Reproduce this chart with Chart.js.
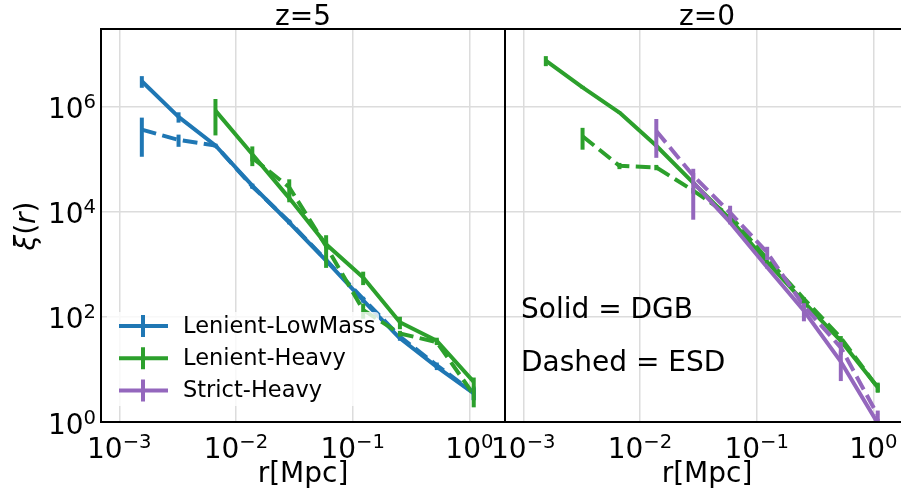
<!DOCTYPE html>
<html>
<head>
<meta charset="utf-8">
<script src="https://cdn.jsdelivr.net/npm/chart.js@4.4.0/dist/chart.umd.min.js"></script>
<style>
  html, body { margin: 0; padding: 0; background: #fff; overflow: hidden; }
  #wrap { position: relative; width: 901px; height: 494px; overflow: hidden; }
  canvas { position: absolute; top: 0; }
  #left { left: 0; }
  #right { left: 480px; }
</style>
</head>
<body>
<div id="wrap">
  <canvas id="left" width="560" height="494"></canvas>
  <canvas id="right" width="460" height="494"></canvas>
</div>
<script>
// bin centres, r [Mpc]
const r = [0.00156, 0.00322, 0.00667, 0.0138, 0.0286, 0.0592, 0.123, 0.254, 0.526, 1.09];

// z=5 panel
const lowMassDGB5 = [3.0e6, 6.3e5, 1.8e5, 3.1e4, 6.2e3, 1.17e3, 205, 39, 11.2, 3.5];
const lowMassDGB5Err = [7.5e5, 1.4e5, 1.5e4, 3e3, 5e2, 1e2, 20, 4, 1.5, 0.9];
const lowMassESD5 = [3.6e5, 2.3e5, 1.8e5, 3.0e4, 6.4e3, 1.2e3, 220, 42, 12, 3.6];
const lowMassESD5Err = [2.5e5, 6e4, 1e4, 3e3, 6e2, 1e2, 20, 4, 1.5, 1];
const heavyDGB5 = [null, null, 8.3e5, 1.23e5, 1.8e4, 2.4e3, 560, 79, 35, 5.8];
const heavyDGB5Err = [null, null, 5.5e5, 5e4, 3e3, 4e2, 160, 21, 5, 1.2];
const heavyESD5 = [null, null, null, 1.05e5, 2.9e4, 2.2e3, 135, 48, 33, 3.3];
const heavyESD5Err = [null, null, null, 1.5e4, 1.2e4, 1.35e3, 43, 6, 4, 1.4];

// z=0 panel
const heavyDGB0 = [7.4e6, 2.3e6, 7.6e5, 1.78e5, 3.5e4, 7.2e3, 1.1e3, 190, 35, 4.6];
const heavyDGB0Err = [1.6e6, 1.5e5, 3e4, 8e3, 2e3, 4e2, 60, 12, 3, 1];
const heavyESD0 = [null, 2.7e5, 7.4e4, 6.9e4, 2.5e4, 8.3e3, 1.25e3, 220, 40, 4.5];
const heavyESD0Err = [null, 1.2e5, 1e4, 8e3, 3e3, 5e2, 80, 15, 3, 0.8];
const strictDGB0 = [null, null, null, null, 3.6e4, 6.2e3, 870, 130, 14, 0.95];
const strictDGB0Err = [null, null, null, null, 2.9e4, 5e2, 50, 48, 8, 0.2];
const strictESD0 = [null, null, null, 3.4e5, 4.8e4, 9.5e3, 1.67e3, 160, 26, 1.35];
const strictESD0Err = [null, null, null, 2.35e5, 6e3, 3.4e3, 470, 20, 7, 0.3];

const xTicks = [1e-3, 1e-2, 1e-1, 1];
const yTicks = [1, 1e2, 1e4, 1e6];
const xMin = 6.97e-4, xMax = 2.02;
const yMin = 1, yMax = 2.95e7;

const BLUE = "#1f77b4", GREEN = "#2ca02c", PURPLE = "#9467bd";
const FONT = "DejaVu Sans";
const DASH = [14.8, 6.4];

function series(label, ys, errs, color, dashed) {
  const pts = [];
  ys.forEach((y, i) => {
    if (y !== null) pts.push({ x: r[i], y: y, e: errs[i] });
  });
  return {
    label: label,
    data: pts,
    borderColor: color,
    backgroundColor: color,
    borderWidth: 4,
    borderDash: dashed ? DASH : [],
    borderJoinStyle: "round",
    pointRadius: 0,
    showLine: true,
    fill: false,
    tension: 0,
  };
}

// "10" with a raised exponent, like matplotlib mathtext
function drawPow(ctx, value, x, baseline, align) {
  const e = String(Math.round(Math.log10(value))).replace("-", "\u2212");
  ctx.textAlign = "left";
  ctx.textBaseline = "alphabetic";
  ctx.font = "28px " + FONT;
  const w1 = ctx.measureText("10").width;
  ctx.font = "19.6px " + FONT;
  const w2 = ctx.measureText(e).width;
  const total = w1 + w2;
  let x0 = align === "right" ? x - total : x - total / 2;
  ctx.font = "28px " + FONT;
  ctx.fillText("10", x0, baseline);
  ctx.font = "19.6px " + FONT;
  ctx.fillText(e, x0 + w1, baseline - 10);
}

// vertical error bars
const errorBars = {
  id: "errorBars",
  afterDatasetsDraw(chart) {
    const { ctx, chartArea: a, scales } = chart;
    ctx.save();
    ctx.beginPath();
    ctx.rect(a.left, a.top, a.right - a.left, a.bottom - a.top);
    ctx.clip();
    ctx.setLineDash([]);
    ctx.lineWidth = 4;
    ctx.lineCap = "butt";
    chart.data.datasets.forEach((ds) => {
      ctx.strokeStyle = ds.borderColor;
      ds.data.forEach((p) => {
        if (!p.e) return;
        const px = scales.x.getPixelForValue(p.x);
        const top = scales.y.getPixelForValue(p.y + p.e);
        const lo = p.y - p.e;
        const bot = lo > 0 ? scales.y.getPixelForValue(lo) : a.bottom + 10;
        ctx.beginPath();
        ctx.moveTo(px, top);
        ctx.lineTo(px, bot);
        ctx.stroke();
      });
    });
    ctx.restore();
  },
};

// frame, tick labels, titles and text
const decor = {
  id: "decor",
  afterDraw(chart, args, opts) {
    const { ctx, chartArea: a, scales } = chart;
    ctx.save();
    ctx.strokeStyle = "#000";
    ctx.lineWidth = 2;
    ctx.strokeRect(a.left, a.top, a.right - a.left, a.bottom - a.top);

    ctx.fillStyle = "#000";
    xTicks.forEach((v) => drawPow(ctx, v, scales.x.getPixelForValue(v), 458, "center"));
    if (opts.yLabels) {
      yTicks.forEach((v) => drawPow(ctx, v, a.left - 5, scales.y.getPixelForValue(v) + 11.5, "right"));
    }

    const cx = (a.left + a.right) / 2;
    ctx.font = "28px " + FONT;
    ctx.textAlign = "center";
    ctx.textBaseline = "alphabetic";
    ctx.fillText(opts.title, cx, 25);
    ctx.fillText("r[Mpc]", cx, 482);

    if (opts.ylabel) {
      ctx.save();
      ctx.translate(28, 226);
      ctx.rotate(-Math.PI / 2);
      ctx.textAlign = "left";
      ctx.textBaseline = "middle";
      const parts = [["italic 28px " + FONT, "\u03BE"], ["28px " + FONT, "("],
        ["italic 28px " + FONT, "r"], ["28px " + FONT, ")"]];
      let w = 0;
      parts.forEach((p) => { ctx.font = p[0]; w += ctx.measureText(p[1]).width; });
      let x = -w / 2;
      parts.forEach((p) => { ctx.font = p[0]; ctx.fillText(p[1], x, 0); x += ctx.measureText(p[1]).width; });
      ctx.restore();
    }

    if (opts.notes) {
      ctx.textAlign = "left";
      ctx.font = "28px " + FONT;
      ctx.fillText("Solid = DGB", a.left + 16, 318);
      ctx.fillText("Dashed = ESD", a.left + 16, 371);
    }

    if (opts.legend) {
      ctx.fillStyle = "rgba(255,255,255,0.8)";
      ctx.beginPath();
      ctx.roundRect(a.left + 6, 312, 272, 94, 4);
      ctx.fill();
      const items = [["Lenient-LowMass", BLUE], ["Lenient-Heavy", GREEN], ["Strict-Heavy", PURPLE]];
      ctx.font = "22.5px " + FONT;
      ctx.textAlign = "left";
      ctx.textBaseline = "middle";
      ctx.lineWidth = 4;
      items.forEach((it, i) => {
        const y = 326 + i * 32.3;
        ctx.strokeStyle = it[1];
        ctx.beginPath();
        ctx.moveTo(a.left + 18, y);
        ctx.lineTo(a.left + 67, y);
        ctx.moveTo(a.left + 42, y - 11);
        ctx.lineTo(a.left + 42, y + 11);
        ctx.stroke();
        ctx.fillStyle = "#000";
        ctx.fillText(it[0], a.left + 82, y + 1);
      });
    }
    ctx.restore();
  },
};

function makeChart(id, datasets, opts) {
  datasets.forEach((d, i) => { d.order = -i; });
  return new Chart(document.getElementById(id), {
    type: "scatter",
    data: { datasets: datasets },
    options: {
      responsive: false,
      animation: false,
      layout: { padding: opts.padding },
      plugins: {
        legend: { display: false },
        tooltip: { enabled: false },
        decor: opts.decor,
      },
      scales: {
        x: {
          type: "logarithmic",
          min: xMin,
          max: xMax,
          afterBuildTicks: (s) => { s.ticks = xTicks.map((v) => ({ value: v })); },
          afterFit: (s) => { s.height = 72; },
          grid: { color: "#dcdcdc", lineWidth: 1.5, drawTicks: false },
          border: { display: false },
          ticks: { display: false },
        },
        y: {
          type: "logarithmic",
          min: yMin,
          max: yMax,
          afterBuildTicks: (s) => { s.ticks = yTicks.map((v) => ({ value: v })); },
          afterFit: (s) => { s.width = opts.yWidth; },
          grid: { color: "#dcdcdc", lineWidth: 1.5, drawTicks: false },
          border: { display: false },
          ticks: { display: false },
        },
      },
    },
    plugins: [errorBars, decor],
  });
}

makeChart("left", [
  series("Lenient-LowMass", lowMassDGB5, lowMassDGB5Err, BLUE, false),
  series("Lenient-LowMass ESD", lowMassESD5, lowMassESD5Err, BLUE, true),
  series("Lenient-Heavy", heavyDGB5, heavyDGB5Err, GREEN, false),
  series("Lenient-Heavy ESD", heavyESD5, heavyESD5Err, GREEN, true),
], {
  padding: { left: 0, top: 29, right: 55, bottom: 0 },
  yWidth: 101,
  decor: { title: "z=5", ylabel: true, legend: true, yLabels: true },
});

makeChart("right", [
  series("Lenient-Heavy", heavyDGB0, heavyDGB0Err, GREEN, false),
  series("Lenient-Heavy ESD", heavyESD0, heavyESD0Err, GREEN, true),
  series("Strict-Heavy", strictDGB0, strictDGB0Err, PURPLE, false),
  series("Strict-Heavy ESD", strictESD0, strictESD0Err, PURPLE, true),
], {
  padding: { left: 0, top: 29, right: 31, bottom: 0 },
  yWidth: 25,
  decor: { title: "z=0", notes: true },
});
</script>
</body>
</html>
